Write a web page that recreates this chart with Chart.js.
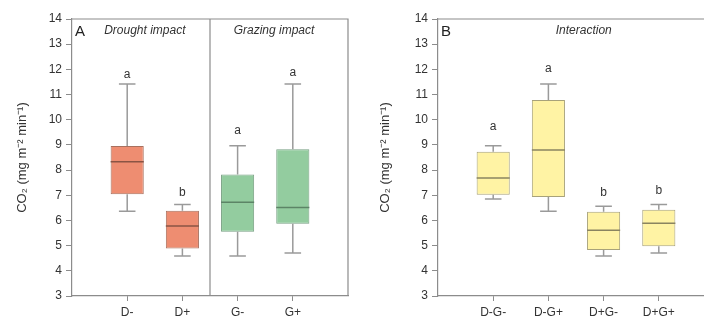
<!DOCTYPE html>
<html>
<head>
<meta charset="utf-8">
<script src="https://cdn.jsdelivr.net/npm/chart.js@4/dist/chart.umd.min.js"></script>
<style>
    html, body { margin: 0; padding: 0; background: #fff; }
    #wrap { position: relative; width: 704px; height: 320px; overflow: hidden; }
    #boxA { position: absolute; left: 0; top: 0; width: 352px; height: 320px; }
    #boxB { position: absolute; left: 352px; top: 0; width: 366px; height: 320px; }
</style>
</head>
<body>
<div id="wrap">
    <div id="boxA"><canvas id="chartA"></canvas></div>
    <div id="boxB"><canvas id="chartB"></canvas></div>
</div>
<script>
// Panel A - drought and grazing main effects
const labelsA = ['D-', 'D+', 'G-', 'G+'];
const minA = [6.37, 4.59, 4.59, 4.71];
const q1A = [7.04, 4.89, 5.55, 5.87];
const medA = [8.33, 5.78, 6.72, 6.51];
const q3A = [8.96, 6.39, 7.82, 8.83];
const maxA = [11.42, 6.63, 8.97, 11.42];
const lettersA = ['a', 'b', 'a', 'a'];
const letterPosA = [11.78, 7.1, 9.55, 11.87];

// Panel B - interaction
const labelsB = ['D-G-', 'D-G+', 'D+G-', 'D+G+'];
const minB = [6.85, 6.37, 4.59, 4.71];
const q1B = [7.02, 6.93, 4.83, 4.98];
const medB = [7.69, 8.80, 5.61, 5.89];
const q3B = [8.73, 10.78, 6.35, 6.43];
const maxB = [8.97, 11.42, 6.56, 6.63];
const lettersB = ['a', 'a', 'b', 'b'];
const letterPosB = [9.72, 12.04, 7.1, 7.18];

const yTitle = 'CO\u2082 (mg m\u207B\u00B2 min\u207B\u00B9)';
const FONT = "'Liberation Sans', Arial, sans-serif";

function boxExtras(cfg) {
    return {
        id: 'boxExtras',
        afterDatasetsDraw(chart) {
            const ctx = chart.ctx;
            const y = chart.scales.y;
            const x = chart.scales.x;
            const area = chart.chartArea;
            const meta = chart.getDatasetMeta(0);
            ctx.save();

            meta.data.forEach(function(bar, i) {
                const cx = bar.x;
                const w = bar.width;
                const cap = w * 0.5;
                // whiskers
                ctx.strokeStyle = '#9a9a9a';
                ctx.lineWidth = 1.5;
                ctx.beginPath();
                ctx.moveTo(cx, y.getPixelForValue(cfg.q3[i]));
                ctx.lineTo(cx, y.getPixelForValue(cfg.max[i]));
                ctx.moveTo(cx - cap / 2, y.getPixelForValue(cfg.max[i]));
                ctx.lineTo(cx + cap / 2, y.getPixelForValue(cfg.max[i]));
                ctx.moveTo(cx, y.getPixelForValue(cfg.q1[i]));
                ctx.lineTo(cx, y.getPixelForValue(cfg.min[i]));
                ctx.moveTo(cx - cap / 2, y.getPixelForValue(cfg.min[i]));
                ctx.lineTo(cx + cap / 2, y.getPixelForValue(cfg.min[i]));
                ctx.stroke();
                // median
                ctx.strokeStyle = cfg.medianColors[i];
                ctx.lineWidth = 1.5;
                ctx.beginPath();
                ctx.moveTo(cx - w / 2, y.getPixelForValue(cfg.med[i]));
                ctx.lineTo(cx + w / 2, y.getPixelForValue(cfg.med[i]));
                ctx.stroke();
                // significance letters
                ctx.fillStyle = '#333';
                ctx.font = '12px ' + FONT;
                ctx.textAlign = 'center';
                ctx.textBaseline = 'middle';
                ctx.fillText(cfg.letters[i], cx, y.getPixelForValue(cfg.letterPos[i]));
            });

            // frame
            ctx.strokeStyle = '#8c8c8c';
            ctx.lineWidth = 1.2;
            ctx.beginPath();
            ctx.moveTo(area.left, area.top);
            ctx.lineTo(area.right, area.top);
            ctx.lineTo(area.right, area.bottom);
            if (cfg.divider) {
                const dx = x.getPixelForValue(cfg.divider);
                ctx.moveTo(dx, area.top);
                ctx.lineTo(dx, area.bottom);
            }
            ctx.stroke();

            // panel letter
            ctx.fillStyle = '#222';
            ctx.font = '15px ' + FONT;
            ctx.textAlign = 'left';
            ctx.textBaseline = 'middle';
            ctx.fillText(cfg.panel, area.left + 3, area.top + 13);

            // panel headings
            ctx.font = 'italic 12px ' + FONT;
            ctx.textAlign = 'center';
            ctx.fillStyle = '#333';
            cfg.headings.forEach(function(h) {
                ctx.fillText(h.text, x.getPixelForValue(h.pos), area.top + 12);
            });
            ctx.restore();
        }
    };
}

function makeChart(id, labels, min, q1, med, q3, max, letters, letterPos, fills, borders, medians, extra) {
    const ctx = document.getElementById(id).getContext('2d');
    return new Chart(ctx, {
        type: 'bar',
        data: {
            datasets: [{
                data: labels.map(function(l, i) { return { x: i + 1, y: [q1[i], q3[i]] }; }),
                backgroundColor: fills,
                borderColor: borders,
                borderWidth: 1,
                borderSkipped: false,
                barPercentage: 0.6,
                categoryPercentage: 1
            }]
        },
        options: {
            responsive: true,
            maintainAspectRatio: false,
            animation: false,
            layout: { padding: { top: 19, right: 4, bottom: 0, left: 0 } },
            plugins: {
                legend: { display: false },
                tooltip: { enabled: false }
            },
            scales: {
                x: {
                    type: 'linear',
                    min: 0,
                    max: 5,
                    offset: false,
                    afterBuildTicks: function(scale) {
                        scale.ticks = labels.map(function(l, i) { return { value: i + 1 }; });
                    },
                    afterFit: function(scale) { scale.height = 24; },
                    ticks: {
                        autoSkip: false,
                        maxRotation: 0,
                        padding: 4,
                        color: '#333',
                        font: { family: FONT, size: 12 },
                        callback: function(v) { return labels[v - 1] || ''; }
                    },
                    grid: { offset: false, drawOnChartArea: false, tickLength: 5, color: '#8c8c8c' },
                    border: { color: '#8c8c8c', width: 1.2 }
                },
                y: {
                    min: 3,
                    max: 14,
                    afterFit: function(scale) { scale.width = extra.axisWidth; },
                    ticks: {
                        stepSize: 1,
                        padding: 4,
                        color: '#333',
                        font: { family: FONT, size: 12 }
                    },
                    grid: { drawOnChartArea: false, tickLength: 6, color: '#8c8c8c' },
                    border: { color: '#8c8c8c', width: 1.2 },
                    title: {
                        display: true,
                        text: yTitle,
                        color: '#333',
                        font: { family: FONT, size: 13 },
                        padding: { top: extra.titlePad, bottom: 0 }
                    }
                }
            }
        },
        plugins: [boxExtras({
            min: min, q1: q1, med: med, q3: q3, max: max,
            letters: letters, letterPos: letterPos,
            medianColors: medians,
            panel: extra.panel,
            divider: extra.divider,
            headings: extra.headings
        })]
    });
}

const orange = '#EE8D71', green = '#93CC9F', yellow = '#FFF3A4';
makeChart('chartA', labelsA, minA, q1A, medA, q3A, maxA, lettersA, letterPosA,
    [orange, orange, green, green],
    ['#a8705e', '#a8705e', '#78a083', '#78a083'],
    ['#8a5444', '#8a5444', '#5c8466', '#5c8466'],
    { axisWidth: 72, titlePad: 15, panel: 'A', divider: 2.5,
      headings: [{ text: 'Drought impact', pos: 1.32 }, { text: 'Grazing impact', pos: 3.66 }] });

makeChart('chartB', labelsB, minB, q1B, medB, q3B, maxB, lettersB, letterPosB,
    [yellow, yellow, yellow, yellow],
    ['#a8a27a', '#a8a27a', '#a8a27a', '#a8a27a'],
    ['#8a8460', '#8a8460', '#8a8460', '#8a8460'],
    { axisWidth: 86, titlePad: 26, panel: 'B', divider: null,
      headings: [{ text: 'Interaction', pos: 2.64 }] });
</script>
</body>
</html>
